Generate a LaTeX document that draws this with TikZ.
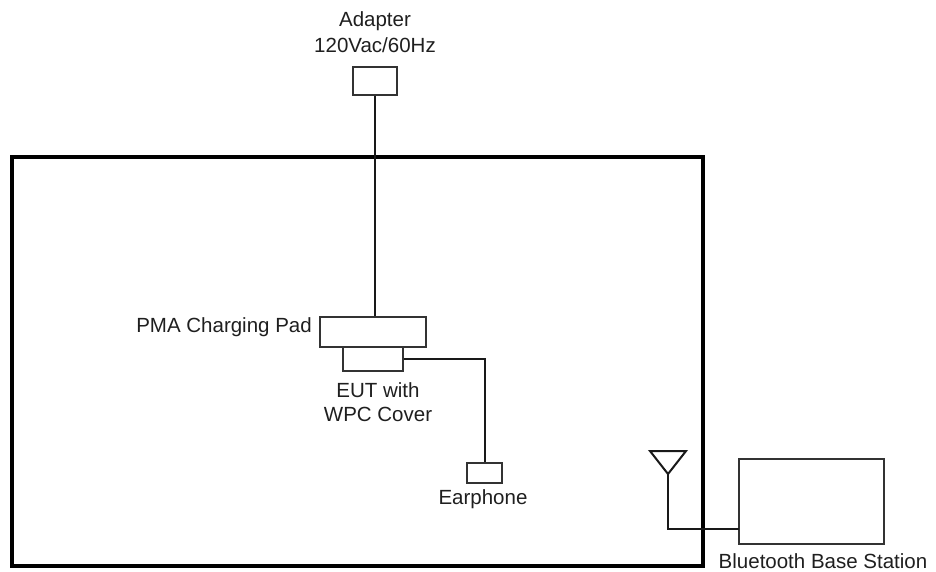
\documentclass[tikz,border=0pt]{standalone}
\usepackage{fontspec}
\setmainfont{Liberation Sans}
\begin{document}
\begin{tikzpicture}[x=1pt,y=-1pt,
  box/.style={draw=black!80,line width=2pt,fill=white,inner sep=0pt,rectangle},
  wire/.style={draw=black!90,line width=2pt},
  lbl/.style={font=\fontsize{20.5}{24}\selectfont,text=black!88,inner sep=0pt}]
\useasboundingbox (0,0) rectangle (936,572);
% enclosure
\draw[line width=4.5pt] (12,157) rectangle (703,566);
% boxes
\node[box,minimum width=44pt,minimum height=28pt] (adapter) at (375,81) {};
\node[box,minimum width=106pt,minimum height=30pt] (pad) at (373,332) {};
\node[box,minimum width=60pt,minimum height=24pt] (eut) at (373,359) {};
\node[box,minimum width=35pt,minimum height=20pt] (ear) at (484.5,473) {};
\node[box,minimum width=145pt,minimum height=85pt] (bs) at (811.5,501.5) {};
% labels
\node[lbl] (adlbl1) at (375,21) {Adapter};
\node[lbl] (adlbl2) at (375,45) {120Vac/60Hz};
\node[lbl,anchor=east] (padlbl) at (312,327) {PMA Charging Pad};
\node[lbl] (eutlbl1) at (378,390) {EUT with};
\node[lbl] (eutlbl2) at (378,414) {WPC Cover};
\node[lbl] (earlbl) at (483,499) {Earphone};
\node[lbl] (bslbl) at (823,561) {Bluetooth Base Station};
% antenna
\coordinate (ant1) at (650,451);
\coordinate (ant2) at (686,451);
\coordinate (apex) at (668,474);
\coordinate (bsin) at (739,529);
\draw[wire,line join=miter] (ant1) -- (ant2) -- (apex) -- cycle;
% connectors
\draw[wire] (adapter.south) -- (adapter.south |- pad.north);
\draw[wire] (eut.east) -- (ear.north |- eut.east) -- (ear.north);
\draw[wire] (apex) |- (bsin);
\end{tikzpicture}
\end{document}
